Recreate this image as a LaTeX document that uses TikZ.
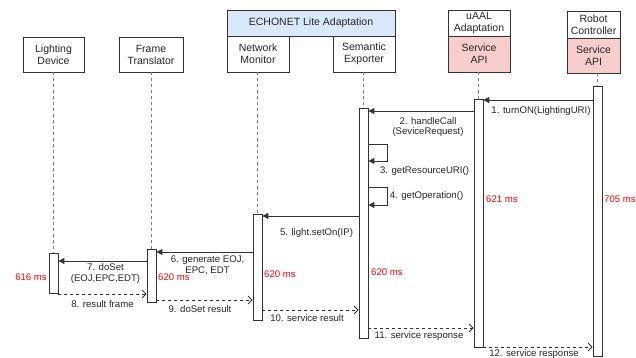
\documentclass[tikz,border=0pt]{standalone}
\usepackage{fontspec}
\setmainfont{Liberation Sans}
\usetikzlibrary{arrows.meta}
\definecolor{ecblue}{HTML}{DAE8FC}
\definecolor{apipink}{HTML}{F8CECC}
\definecolor{ink}{HTML}{333333}
\definecolor{msred}{HTML}{FF0000}
\tikzset{
  hdr/.style={draw=ink, line width=0.8pt, fill=white, align=center, inner sep=0pt, text=black!85, font=\fontsize{10.5}{12}\selectfont},
  act/.style={draw=ink, line width=0.8pt, fill=white, minimum width=9pt, inner sep=0pt},
  life/.style={draw=gray, line width=0.8pt, dash pattern=on 3pt off 3pt},
  msg/.style={draw=ink, line width=0.9pt, -{Triangle[length=6pt,width=6pt]}},
  ret/.style={draw=ink, line width=0.8pt, dash pattern=on 3pt off 3pt, -{Straight Barb[length=4pt,width=8pt,line width=0.8pt]}},
  lbl/.style={text=black!85, align=center, inner sep=0pt, font=\fontsize{9.6}{10.6}\selectfont},
  tm/.style={text=msred, inner sep=0pt, font=\fontsize{9.6}{11}\selectfont}
}
\begin{document}
\begin{tikzpicture}[x=1pt,y=-1pt]
\useasboundingbox (0,0) rectangle (636,358);

% headers
\node[hdr, minimum width=61pt, minimum height=35pt] (hL) at (53.5,54.5) {Lighting\\Device};
\node[hdr, minimum width=64pt, minimum height=35pt] (hF) at (151,54.5) {Frame\\Translator};
\node[hdr, fill=ecblue, minimum width=168pt, minimum height=26pt] (hE) at (311,23) {ECHONET Lite Adaptation};
\node[hdr, minimum width=62pt, minimum height=36pt] (hN) at (258,54) {Network\\Monitor};
\node[hdr, minimum width=62pt, minimum height=36pt] (hS) at (364,54) {Semantic\\Exporter};
\node[hdr, minimum width=62pt, minimum height=26pt] (hUt) at (479,23) {uAAL\\Adaptation};
\node[hdr, fill=apipink, minimum width=62pt, minimum height=36pt] (hU) at (479,54) {Service\\API};
\node[hdr, minimum width=53pt, minimum height=62pt] (hRo) at (593.5,42) {};
\node[hdr, draw=none, fill=none] (hRt) at (593.5,24.5) {Robot\\Controller};
\node[hdr, fill=apipink, minimum width=53pt, minimum height=35pt] (hR) at (593.5,55.5) {Service\\API};

% activation boxes
\node[act, minimum height=40pt] (aL) at (53.5,273) {};
\node[act, minimum height=53pt] (aF) at (151.5,275.5) {};
\node[act, minimum height=106pt] (aN) at (257.5,267) {};
\node[act, minimum height=230pt] (aS) at (363.5,223) {};
\node[act, minimum height=248pt] (aU) at (478.5,223) {};
\node[act, minimum height=270pt] (aR) at (597.5,221) {};

% lifelines
\draw[life] (aL.north |- hL.south) -- (aL.north);
\draw[life] (aF.north |- hF.south) -- (aF.north);
\draw[life] (aN.north |- hN.south) -- (aN.north);
\draw[life] (aS.north |- hS.south) -- (aS.north);
\draw[life] (aU.north |- hU.south) -- (aU.north);
\draw[life] (aR.north |- hR.south) -- (aR.north);

% messages
\draw[msg] (aR.west |- 0,100) -- (aU.east |- 0,100);
\node[lbl] (l1) at (541,111) {1. turnON(LightingURI)};
\draw[msg] (aU.west |- 0,111) -- (aS.east |- 0,111);
\node[lbl] (l2) at (428,127) {2. handleCall\\(SeviceRequest)};
\draw[msg] (aS.east |- 0,144) -- ++(19,0) |- (aS.east |- 0,161);
\node[lbl] (l3) at (424.5,171) {3. getResourceURI()};
\draw[msg] (aS.east |- 0,187) -- ++(19,0) |- (aS.east |- 0,205);
\node[lbl] (l4) at (426.5,196) {4. getOperation()};
\draw[msg] (aS.west |- 0,216) -- (aN.east |- 0,216);
\node[lbl] (l5) at (316.5,233) {5. light.setOn(IP)};
\draw[msg] (aN.west |- 0,252) -- (aF.east |- 0,252);
\node[lbl] (l6) at (207.5,265.5) {6. generate EOJ,\\EPC, EDT};
\draw[msg] (aF.west |- 0,261) -- (aL.east |- 0,261);
\node[lbl] (l7) at (105.5,273.5) {7. doSet\\(EOJ,EPC,EDT)};
\draw[ret] (aL.east |- 0,294) -- (aF.west |- 0,294);
\node[lbl] (l8) at (102.5,304.5) {8. result frame};
\draw[ret] (aF.east |- 0,300) -- (aN.west |- 0,300);
\node[lbl] (l9) at (200,309) {9. doSet result};
\draw[ret] (aN.east |- 0,310) -- (aS.west |- 0,310);
\node[lbl] (l10) at (307,318) {10. service result};
\draw[ret] (aS.east |- 0,328) -- (aU.west |- 0,328);
\node[lbl] (l11) at (419,336) {11. service response};
\draw[ret] (aU.east |- 0,347) -- (aR.west |- 0,347);
\node[lbl] (l12) at (534,354.5) {12. service response};

% timings
\node[tm, anchor=west] (t1) at (604,199) {705 ms};
\node[tm, anchor=west] (t2) at (486,199) {621 ms};
\node[tm, anchor=west] (t3) at (371,272) {620 ms};
\node[tm, anchor=west] (t4) at (264,274) {620 ms};
\node[tm, anchor=west] (t5) at (158,277) {620 ms};
\node[tm, anchor=east] (t6) at (47,277) {616 ms};
\end{tikzpicture}
\end{document}
